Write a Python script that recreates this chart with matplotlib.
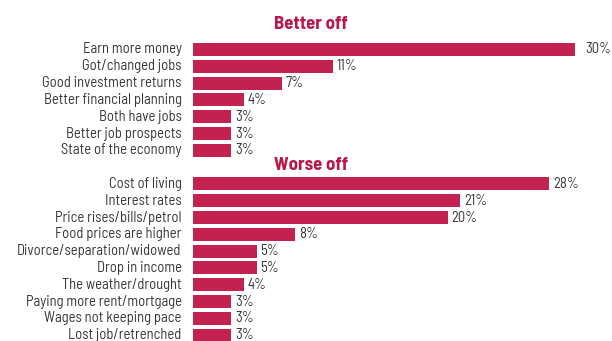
import matplotlib.pyplot as plt

better_labels = ["Earn more money", "Got/changed jobs", "Good investment returns",
                 "Better financial planning", "Both have jobs", "Better job prospects",
                 "State of the economy"]
better_values = [30, 11, 7, 4, 3, 3, 3]

worse_labels = ["Cost of living", "Interest rates", "Price rises/bills/petrol",
                "Food prices are higher", "Divorce/separation/widowed", "Drop in income",
                "The weather/drought", "Paying more rent/mortgage", "Wages not keeping pace",
                "Lost job/retrenched"]
worse_values = [28, 21, 20, 8, 5, 5, 4, 3, 3, 3]

bar_color = "#C3214F"
text_color = "#383838"
font = ["Barlow Semi Condensed", "DejaVu Sans"]

fig = plt.figure(figsize=(6.12, 3.41), dpi=100)
ax = fig.add_axes([193 / 612, 0, 419 / 612, 1])

# one row per bar, with an empty slot where the "Worse off" heading goes
better_pos = list(range(1, 1 + len(better_labels)))
worse_pos = list(range(9, 9 + len(worse_labels)))

ax.barh(better_pos, better_values, height=0.77, color=bar_color)
ax.barh(worse_pos, worse_values, height=0.77, color=bar_color)

for pos, lab, val in zip(better_pos + worse_pos, better_labels + worse_labels,
                         better_values + worse_values):
    ax.text(-0.9, pos, lab, ha="right", va="center", fontsize=10.5,
            color=text_color, family=font)
    pad = 0.85 if val == max(better_values) else 0.3
    ax.text(val + pad, pos, f"{val}%", ha="left", va="center", fontsize=10.5,
            color=text_color, family=font)

ax.set_xlim(0, 419 / 12.73)
ax.set_ylim(18.35, -1.946)
ax.axis("off")

fig.text(0.508, 1 - 24.5 / 341, "Better off", ha="center", va="center",
         fontsize=13.5, fontweight="bold", color="#B8184A", family=font)
fig.text(0.508, 1 - 165 / 341, "Worse off", ha="center", va="center",
         fontsize=13.5, fontweight="bold", color="#B8184A", family=font)

fig.savefig("out.png", dpi=100)
